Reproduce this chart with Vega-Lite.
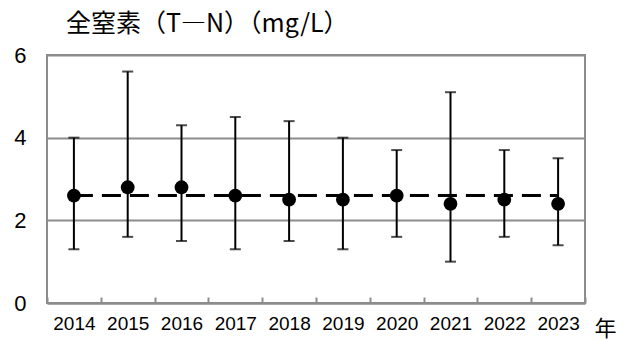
{
  "$schema": "https://vega.github.io/schema/vega-lite/v6.json",
  "width": 538,
  "height": 248,
  "autosize": {"type": "none"},
  "padding": {"left": 47, "top": 55, "right": 45, "bottom": 37},
  "background": "white",
  "title": {
    "text": "全窒素（T―N）（mg/L）",
    "anchor": "start",
    "frame": "group",
    "dx": 19,
    "offset": 7,
    "font": "Noto Sans CJK JP",
    "fontSize": 25,
    "fontWeight": "normal",
    "color": "black"
  },
  "config": {
    "view": {"stroke": "#8c8c8c", "strokeWidth": 2}
  },
  "data": {
    "values": [
      {"year": "2014", "mean": 2.6, "max": 4.0, "min": 1.3, "ref": 2.6},
      {"year": "2015", "mean": 2.8, "max": 5.6, "min": 1.6, "ref": 2.6},
      {"year": "2016", "mean": 2.8, "max": 4.3, "min": 1.5, "ref": 2.6},
      {"year": "2017", "mean": 2.6, "max": 4.5, "min": 1.3, "ref": 2.6},
      {"year": "2018", "mean": 2.5, "max": 4.4, "min": 1.5, "ref": 2.6},
      {"year": "2019", "mean": 2.5, "max": 4.0, "min": 1.3, "ref": 2.6},
      {"year": "2020", "mean": 2.6, "max": 3.7, "min": 1.6, "ref": 2.6},
      {"year": "2021", "mean": 2.4, "max": 5.1, "min": 1.0, "ref": 2.6},
      {"year": "2022", "mean": 2.5, "max": 3.7, "min": 1.6, "ref": 2.6},
      {"year": "2023", "mean": 2.4, "max": 3.5, "min": 1.4, "ref": 2.6}
    ]
  },
  "encoding": {
    "x": {
      "field": "year",
      "type": "nominal",
      "scale": {"paddingInner": 0, "paddingOuter": 0},
      "axis": {
        "title": "年",
        "titleFont": "Noto Sans CJK JP",
        "titleFontSize": 22,
        "titleFontWeight": "normal",
        "titleColor": "black",
        "titleX": 558,
        "titleY": 25,
        "titleAlign": "center",
        "titleBaseline": "middle",
        "labelAngle": 0,
        "labelFont": "Liberation Sans",
        "labelFontSize": 19,
        "labelColor": "black",
        "labelPadding": 17,
        "tickBand": "extent",
        "tickSize": -6,
        "tickColor": "#8c8c8c",
        "tickWidth": 2,
        "domainColor": "#8c8c8c",
        "domainWidth": 2,
        "grid": false
      }
    }
  },
  "layer": [
    {
      "mark": {"type": "rule", "color": "black", "strokeWidth": 2},
      "encoding": {
        "y": {
          "field": "max",
          "type": "quantitative",
          "scale": {"domain": [0, 6]},
          "axis": {
            "title": null,
            "values": [0, 2, 4, 6],
            "labelFont": "Liberation Sans",
            "labelFontSize": 22,
            "labelColor": "black",
            "labelPadding": 21,
            "ticks": false,
            "domain": false,
            "gridColor": "#8c8c8c",
            "gridWidth": 2
          }
        },
        "y2": {"field": "min"}
      }
    },
    {
      "mark": {"type": "tick", "color": "black", "size": 11, "thickness": 2},
      "encoding": {"y": {"field": "max", "type": "quantitative"}}
    },
    {
      "mark": {"type": "tick", "color": "black", "size": 11, "thickness": 2},
      "encoding": {"y": {"field": "min", "type": "quantitative"}}
    },
    {
      "mark": {"type": "line", "color": "black", "strokeWidth": 3, "strokeDash": [19, 9]},
      "encoding": {"y": {"field": "ref", "type": "quantitative"}}
    },
    {
      "mark": {"type": "point", "filled": true, "color": "black", "opacity": 1, "size": 190},
      "encoding": {"y": {"field": "mean", "type": "quantitative"}}
    }
  ]
}
